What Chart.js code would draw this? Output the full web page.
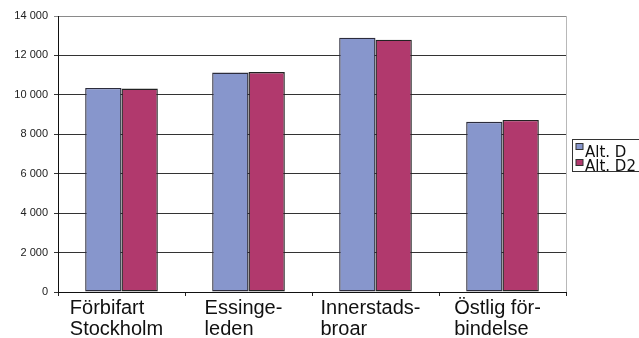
<!DOCTYPE html>
<html>
<head>
<meta charset="utf-8">
<script src="https://cdn.jsdelivr.net/npm/chart.js@4/dist/chart.umd.min.js"></script>
<style>
  html, body { margin: 0; padding: 0; background: #fff; }
  #wrap { width: 639px; height: 338px; position: relative; }
</style>
</head>
<body>
<div id="wrap"><canvas id="c" width="639" height="338"></canvas></div>
<script>
// Traffic volumes per crossing, two alternatives
const categories = [
  ['Förbifart', 'Stockholm'],
  ['Essinge-', 'leden'],
  ['Innerstads-', 'broar'],
  ['Östlig för-', 'bindelse']
];
const seriesNames = ['Alt. D', 'Alt. D2'];
const altD  = [10350, 11130, 12900, 8630];
const altD2 = [10320, 11160, 12800, 8730];
const yTicks = [0, 2000, 4000, 6000, 8000, 10000, 12000, 14000];

const BLUE = '#8796CC';
const RED = '#B1396D';

function fmt(v) {
  return String(v).replace(/\B(?=(\d{3})+(?!\d))/g, ' ');
}

// Multi-line category labels: lines left-aligned, block centred under its group
const labelBlockPlugin = {
  id: 'labelBlock',
  beforeDraw(chart) {
    const xs = chart.scales.x;
    const items = xs.getLabelItems();
    const ctx = chart.ctx;
    ctx.save();
    items.forEach(it => {
      if (it._shifted) return;
      ctx.font = it.font.string;
      const lines = Array.isArray(it.label) ? it.label : [it.label];
      const w = Math.max(...lines.map(l => ctx.measureText(l).width));
      it.options.translation[0] -= w / 2 + 5;
      it._shifted = true;
    });
    ctx.restore();
  }
};

// Right edge of the plot frame and the boxed legend
const frameLegendPlugin = {
  id: 'frameLegend',
  afterDraw(chart) {
    const { ctx, chartArea } = chart;
    ctx.save();
    ctx.strokeStyle = '#b8b8b8';
    ctx.lineWidth = 1;
    ctx.beginPath();
    ctx.moveTo(chartArea.right + 0.5, chartArea.top);
    ctx.lineTo(chartArea.right + 0.5, chartArea.bottom);
    ctx.stroke();

    const bx = chartArea.right + 6.5, by = 139.5;
    ctx.strokeStyle = '#333';
    ctx.strokeRect(bx, by, 100, 32);
    ctx.font = '15px "DejaVu Sans"';
    ctx.textBaseline = 'alphabetic';
    ctx.textAlign = 'left';
    chart.data.datasets.forEach((ds, i) => {
      const y = by + 4 + i * 16;
      ctx.fillStyle = ds.backgroundColor;
      ctx.fillRect(bx + 3.5, y, 7, 6);
      ctx.strokeStyle = '#333';
      ctx.strokeRect(bx + 3.5, y, 7, 6);
      ctx.fillStyle = '#111';
      ctx.fillText(ds.label, bx + 12.5, by + 17 + i * 14.5);
    });
    ctx.restore();
  }
};

new Chart(document.getElementById('c'), {
  type: 'bar',
  data: {
    labels: categories,
    datasets: [
      { label: seriesNames[0], data: altD, backgroundColor: BLUE, borderColor: '#2c2c3c', borderWidth: 1.4, borderSkipped: false },
      { label: seriesNames[1], data: altD2, backgroundColor: RED, borderColor: '#222', borderWidth: 1.4, borderSkipped: false }
    ]
  },
  options: {
    responsive: false,
    animation: false,
    devicePixelRatio: 1,
    layout: { padding: { top: 16, right: 73, left: 0, bottom: 0 } },
    datasets: { bar: { categoryPercentage: 0.572, barPercentage: 1.0, inflateAmount: 0 } },
    plugins: {
      legend: { display: false },
      tooltip: { enabled: false }
    },
    scales: {
      x: {
        grid: { drawOnChartArea: false, drawTicks: true, tickLength: 4, color: '#222', offset: true },
        border: { color: '#111', width: 1 },
        ticks: {
          align: 'start',
          padding: 2,
          color: '#111',
          font: { family: '"Liberation Sans", Arial, sans-serif', size: 20, lineHeight: 1.05 },
          maxRotation: 0,
          autoSkip: false
        },
        afterFit(s) { s.height = 46; }
      },
      y: {
        min: 0,
        max: 14000,
        afterBuildTicks(s) { s.ticks = yTicks.map(v => ({ value: v })); },
        grid: {
          color: ctx => (ctx.tick && ctx.tick.value === 14000 ? '#8a8a8a' : '#333'),
          lineWidth: 1,
          drawTicks: true,
          tickLength: 4
        },
        border: { color: '#111', width: 1 },
        ticks: {
          padding: 6,
          color: '#222',
          font: { family: '"Liberation Sans", Arial, sans-serif', size: 11 },
          callback: v => fmt(v)
        },
        afterFit(s) { s.width = 58; }
      }
    }
  },
  plugins: [labelBlockPlugin, frameLegendPlugin]
});
</script>
</body>
</html>
